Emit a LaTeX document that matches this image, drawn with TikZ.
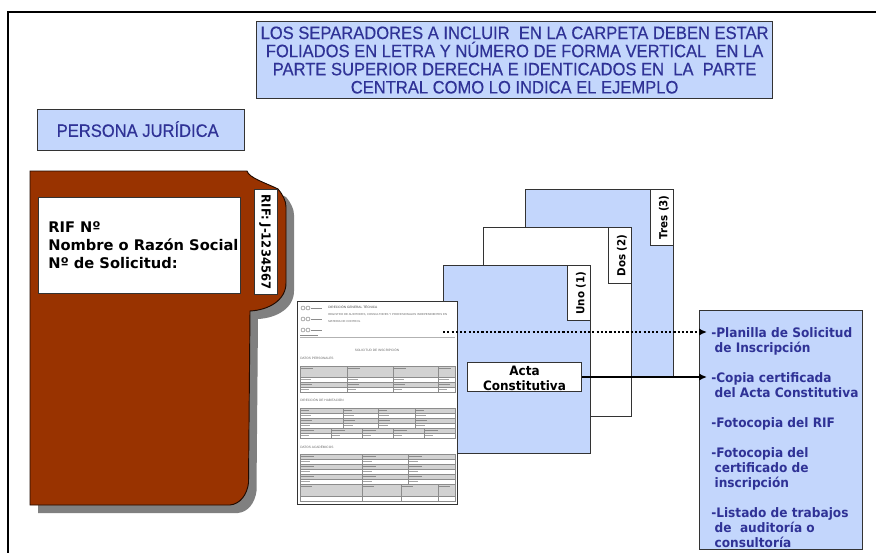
\documentclass[tikz,border=0pt]{standalone}
\usepackage{fontspec}
\usetikzlibrary{arrows.meta}
\setmainfont{DejaVu Sans}
\newfontfamily\titlef[FakeStretch=0.92,FakeBold=0.4]{Liberation Sans}
\newfontfamily\bodyf[FakeStretch=0.93]{DejaVu Sans}[BoldFont={DejaVu Sans Bold}]
\newfontfamily\widef{DejaVu Sans}[BoldFont={DejaVu Sans Bold}]
\newfontfamily\formf{Liberation Sans}
\definecolor{sep}{HTML}{C3D6FC}
\definecolor{edge}{HTML}{333333}
\definecolor{ink}{HTML}{2F3296}
\definecolor{brown}{HTML}{993300}
\definecolor{fgray}{HTML}{D2D2D2}
\definecolor{fline}{HTML}{8C8C8C}
\tikzset{
  x=0.75pt,y=-0.75pt,
  panel/.style={draw=edge,line width=1pt,fill=sep},
  whitepanel/.style={draw=edge,line width=1pt,fill=white},
  blacktext/.style={font=\widef\bfseries\fontsize{11}{13.5}\selectfont,text=black,inner sep=0pt},
  bluetext/.style={font=\bodyf\bfseries\fontsize{9.8}{11.25}\selectfont,text=ink,inner sep=0pt,align=left,anchor=north west},
  tabtext/.style={font=\bodyf\bfseries\fontsize{8.3}{10}\selectfont,text=black,inner sep=0pt,rotate=90},
  tiny/.style={font=\formf\fontsize{2.4}{3}\selectfont,text=black!60,inner sep=0pt,anchor=west,align=left},
  gcell/.style={draw=fline,line width=0.3pt,fill=fgray},
  wcell/.style={draw=fline,line width=0.3pt,fill=white},
  link/.style={line width=1.6pt,-{Latex[length=6pt,width=5.5pt]}},
  dotlink/.style={line width=1.6pt,dash pattern=on 1.6pt off 1.6pt,-{Latex[length=6pt,width=5.5pt]}}
}
\newcommand{\boxat}[5]{\node[#1,minimum width=#4*0.75pt-1pt,minimum height=#5*0.75pt-1pt,inner sep=0pt,anchor=north west] (#2) at (#3) {};}
\begin{document}
\begin{tikzpicture}
\useasboundingbox (0,0) rectangle (876,553);
\fill[white] (0,0) rectangle (876,553);
% frame
\coordinate (frameA) at (876,12);
\coordinate (frameB) at (8,12);
\coordinate (frameC) at (8,553);
\draw[black,line width=2.2pt] (frameA) -- (frameB) -- (frameC);

% title and heading
\node[panel,minimum width=386.9pt,minimum height=57.6pt,inner sep=0pt,anchor=north west,
  font=\titlef\fontsize{13.5}{13.6}\selectfont,text=ink,align=center] (title) at (256,21)
  {LOS SEPARADORES A INCLUIR\ \ EN LA CARPETA DEBEN ESTAR\\
   FOLIADOS EN LETRA Y NÚMERO DE FORMA VERTICAL\ \ EN LA\\
   PARTE SUPERIOR DERECHA E IDENTICADOS EN\ \ LA\ \ PARTE\\
   CENTRAL COMO LO INDICA EL EJEMPLO};
\node[panel,minimum width=155.1pt,minimum height=30.6pt,inner sep=0pt,anchor=north west,
  font=\titlef\fontsize{13.5}{14}\selectfont,text=ink] (persona) at (37,109) {\raisebox{1.5pt}{PERSONA JURÍDICA}\hspace*{5pt}};

% folder
\fill[black!50] (38,179) -- (255,179) .. controls (262,188) and (275,192) .. (286,197)
  .. controls (291,203) and (294,209) .. (294,215) -- (294,291)
  .. controls (294,308) and (277,318) .. (258,319) -- (256.5,491)
  .. controls (255,503) and (248,512) .. (238,513) -- (38,513) -- cycle;
\draw[draw=black!80!brown,line width=0.7pt,fill=brown] (30,171) -- (247,171)
  .. controls (249,178) and (266,183) .. (278,189)
  .. controls (283,195) and (286,201) .. (286,207) -- (286,283)
  .. controls (286,300) and (269,310) .. (250,311) -- (248.5,483)
  .. controls (247,495) and (240,504) .. (230,505) -- (30,505) -- cycle;
\boxat{whitepanel}{labelbox}{38,197}{203}{97}
\node[blacktext,anchor=north west,align=left] (labeltext) at (48,221)
  {RIF Nº\\Nombre o Razón Social\\Nº de Solicitud:};
\boxat{whitepanel}{riftab}{254,189}{24}{106}
\node[tabtext,rotate=180,font=\bodyf\bfseries\fontsize{9.3}{10}\selectfont] (riftext) at ([xshift=-0.7pt]riftab.center) {RIF: J-1234567};

% separators, back to front
\boxat{panel}{tres}{525,189}{149}{189}
\boxat{whitepanel}{trestab}{650,189}{24}{57}
\node[tabtext] (trestext) at ([xshift=1.5pt]trestab.center) {Tres (3)};
\boxat{whitepanel}{dos}{483,227}{149}{190}
\boxat{whitepanel}{dostab}{608,227}{24}{57}
\node[tabtext] (dostext) at ([xshift=1.5pt]dostab.center) {Dos (2)};
\boxat{panel}{uno}{443,265}{148}{189}
\boxat{whitepanel}{unotab}{567,265}{24}{56}
\node[tabtext] (unotext) at ([xshift=1.5pt]unotab.center) {Uno (1)};
\boxat{whitepanel}{acta}{467,362}{115}{30}
\node[blacktext,font=\bodyf\bfseries\fontsize{9.7}{11.25}\selectfont,align=center,yshift=-0.8pt] (actatext) at (acta.center) {Acta\\Constitutiva};

% form sheet
\boxat{whitepanel}{form}{297,301}{161}{204}
% logos
\foreach \yy in {308,319,330}{
  \draw[black!55,line width=0.3pt] (303,\yy) circle (2) (308,\yy) circle (2);
  \fill[black!45] (311,\yy-0.4) rectangle (322,\yy+0.4);
}
\node[tiny,text=black!75] (f1) at (328,307) {DIRECCIÓN GENERAL TÉCNICA};
\node[tiny,font=\formf\fontsize{2.15}{3}\selectfont] (f2) at (328,315) {REGISTRO DE AUDITORES, CONSULTORES Y PROFESIONALES INDEPENDIENTES EN};
\node[tiny,font=\formf\fontsize{2.15}{3}\selectfont] (f3) at (328,322) {MATERIA DE CONTROL};
\fill[black!45] (300,335) rectangle (318,336);
\fill[black!30] (300,337) rectangle (455,338.2);
\node[tiny,anchor=center] (f4) at (377,350) {SOLICITUD DE INSCRIPCIÓN};
\node[tiny] (f5) at (300,358) {DATOS PERSONALES};
% table 1
\foreach \a/\b in {300/347,347/393,393/438,438/455}{
  \draw[gcell] (\a,366) rectangle (\b,377);
  \draw[wcell] (\a,377) rectangle (\b,382);
  \draw[gcell] (\a,382) rectangle (\b,387);
  \draw[wcell] (\a,387) rectangle (\b,392);
  \fill[black!45] (\a+1,368) rectangle (\a+13,369.2);
  \fill[black!35] (\a+1,379) rectangle (\a+11,380.2);
  \fill[black!45] (\a+1,384) rectangle (\a+12,385.2);
  \fill[black!35] (\a+1,389) rectangle (\a+9,390.2);
}
\node[tiny] (f6) at (300,400) {DIRECCIÓN DE HABITACIÓN};
% table 2
\foreach \a/\b in {300/343,343/378,378/415,415/455}{
  \draw[gcell] (\a,408) rectangle (\b,413);
  \draw[wcell] (\a,413) rectangle (\b,418);
  \draw[gcell] (\a,418) rectangle (\b,423);
  \draw[wcell] (\a,423) rectangle (\b,428);
  \fill[black!45] (\a+1,410) rectangle (\a+9,411.2);
  \fill[black!35] (\a+1,415) rectangle (\a+11,416.2);
  \fill[black!45] (\a+1,420) rectangle (\a+12,421.2);
  \fill[black!35] (\a+1,425) rectangle (\a+10,426.2);
}
\foreach \a/\b in {300/331,331/362,362/393,393/424,424/455}{
  \draw[gcell] (\a,428) rectangle (\b,433);
  \draw[wcell] (\a,433) rectangle (\b,438);
  \fill[black!45] (\a+1,430) rectangle (\a+14,431.2);
  \fill[black!35] (\a+1,435) rectangle (\a+9,436.2);
}
\node[tiny] (f7) at (300,447) {DATOS ACADÉMICOS};
% table 3
\foreach \a/\b in {300/362,362/408,408/455}{
  \foreach \yy in {454,464,474}{
    \draw[gcell] (\a,\yy) rectangle (\b,\yy+5);
    \draw[wcell] (\a,\yy+5) rectangle (\b,\yy+10);
    \fill[black!45] (\a+1,\yy+2) rectangle (\a+14,\yy+3.2);
    \fill[black!35] (\a+1,\yy+7) rectangle (\a+10,\yy+8.2);
  }
}
\foreach \a/\b in {300/362,362/401,401/438,438/455}{
  \draw[gcell] (\a,484) rectangle (\b,496);
  \draw[wcell] (\a,496) rectangle (\b,501);
  \fill[black!45] (\a+1,486) rectangle (\a+12,487.2);
}

% list box
\boxat{panel}{list}{699,310}{164}{240}
\node[bluetext] (li1) at (711,327) {-Planilla de Solicitud\\\hspace*{2.5pt}de Inscripción};
\node[bluetext] (li2) at (711,372) {-Copia certificada\\\hspace*{2.5pt}del Acta Constitutiva};
\node[bluetext] (li3) at (711,417) {-Fotocopia del RIF};
\node[bluetext] (li4) at (711,447) {-Fotocopia del\\\hspace*{2.5pt}certificado de\\\hspace*{2.5pt}inscripción};
\node[bluetext] (li5) at (711,507) {-Listado de trabajos\\\hspace*{2.5pt}de\ \ auditoría o\\\hspace*{2.5pt}consultoría};

% connectors
\coordinate (dotstart) at (443,332);
\coordinate (dotend) at (707,332);
\coordinate (solidend) at (707,377);
\draw[dotlink] (dotstart) -- (dotend);
\draw[link] (acta.east) -- (solidend);
\end{tikzpicture}
\end{document}
